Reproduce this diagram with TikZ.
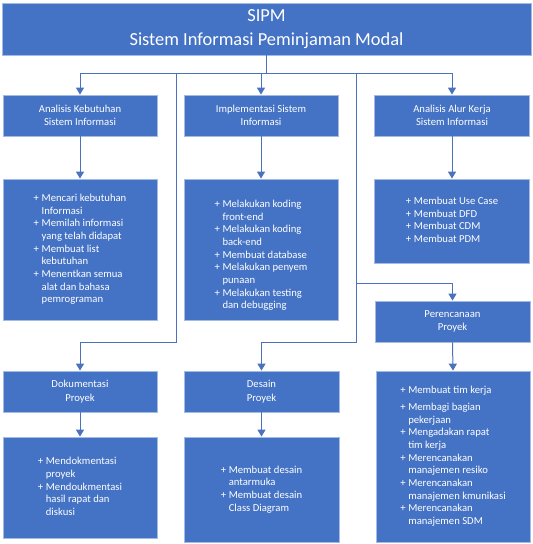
\documentclass[tikz,border=0pt]{standalone}
\usepackage{fontspec}
\setmainfont{Carlito}
\usetikzlibrary{arrows.meta}
\definecolor{boxblue}{HTML}{4472C4}
\definecolor{boxedge}{HTML}{A4BBE3}
\definecolor{linecol}{HTML}{4A72BE}
\tikzset{
  box/.style={draw=boxedge, line width=0.6pt, fill=boxblue, text=white, inner sep=0pt, align=center,
    font=\fontsize{8}{10.2}\selectfont},
  listtext/.style={text=white, inner sep=0pt, align=left, font=\fontsize{8}{9.5}\selectfont},
  conn/.style={draw=linecol, line width=0.75pt},
  arr/.style={conn, -{Triangle[width=6pt,length=5.2pt]}}
}
\newcommand{\itm}[1]{+ & #1\\}
\newcommand{\cnt}[1]{& #1\\}
\begin{document}
\begin{tikzpicture}[x=0.75pt,y=-0.75pt]
\useasboundingbox (0,0) rectangle (533,544);
% top
\node[box, minimum width={529*0.75pt}, minimum height={52*0.75pt}, font=\fontsize{13.8}{18}\selectfont] (top) at (266.5,29) {SIPM\\Sistem Informasi Peminjaman Modal};
% row 1
\node[box, minimum width={154*0.75pt}, minimum height={41*0.75pt}] (a1) at (80,115.5) {Analisis Kebutuhan\\Sistem Informasi};
\node[box, minimum width={154*0.75pt}, minimum height={41*0.75pt}] (a2) at (261,115.5) {Implementasi Sistem\\Informasi};
\node[box, minimum width={155*0.75pt}, minimum height={41*0.75pt}] (a3) at (452,115.5) {Analisis Alur Kerja\\Sistem Informasi};
% row 2
\node[box, minimum width={154*0.75pt}, minimum height={141*0.75pt}] (b1) at (80,249.5) {};
\node[listtext] (t1) at (b1.center) {\begin{tabular}{@{}l@{\hspace{2pt}}l@{}}
\itm{Mencari kebutuhan}\cnt{Informasi}\itm{Memilah informasi}\cnt{yang telah didapat}\itm{Membuat list}\cnt{kebutuhan}\itm{Menentkan semua}\cnt{alat dan bahasa}\cnt{pemrograman}\end{tabular}};
\node[box, minimum width={154*0.75pt}, minimum height={141*0.75pt}] (b2) at (261,249.5) {};
\node[listtext] (t2) at ([yshift=-4.5pt]b2.center) {\begin{tabular}{@{}l@{\hspace{2pt}}l@{}}
\itm{Melakukan koding}\cnt{front-end}\itm{Melakukan koding}\cnt{back-end}\itm{Membuat database}\itm{Melakukan penyem}\cnt{punaan}\itm{Melakukan testing}\cnt{dan debugging}\end{tabular}};
\node[box, minimum width={155*0.75pt}, minimum height={84*0.75pt}] (b3) at (452,221) {};
\node[listtext] (t3) at (b3.center) {\begin{tabular}{@{}l@{\hspace{2pt}}l@{}}
\itm{Membuat Use Case}\itm{Membuat DFD}\itm{Membuat CDM}\itm{Membuat PDM}\end{tabular}};
% row 3
\node[box, minimum width={155*0.75pt}, minimum height={41*0.75pt}] (per) at (452.5,321.5) {Perencanaan\\Proyek};
\node[box, minimum width={154*0.75pt}, minimum height={41*0.75pt}] (dok) at (80,391.5) {Dokumentasi\\Proyek};
\node[box, minimum width={155*0.75pt}, minimum height={41*0.75pt}] (des) at (261.5,391.5) {Desain\\Proyek};
% row 4
\node[box, minimum width={154*0.75pt}, minimum height={101*0.75pt}] (c1) at (80,487.5) {};
\node[listtext] (u1) at (c1.center) {\begin{tabular}{@{}l@{\hspace{2pt}}l@{}}
\itm{Mendokmentasi}\cnt{proyek}\itm{Mendoukmentasi}\cnt{hasil rapat dan}\cnt{diskusi}\end{tabular}};
\node[box, minimum width={155*0.75pt}, minimum height={105*0.75pt}] (c2) at (261.5,489.5) {};
\node[listtext] (u2) at (c2.center) {\begin{tabular}{@{}l@{\hspace{2pt}}l@{}}
\itm{Membuat desain}\cnt{antarmuka}\itm{Membuat desain}\cnt{Class Diagram}\end{tabular}};
\node[box, minimum width={154*0.75pt}, minimum height={171*0.75pt}] (c3) at (453,456.5) {};
\node[listtext] (u3) at (c3.center) {\begin{tabular}{@{}l@{\hspace{2pt}}l@{}}
+ & Membuat tim kerja\\[3pt]
\itm{Membagi bagian}\cnt{pekerjaan}\itm{Mengadakan rapat}\cnt{tim kerja}\itm{Merencanakan}\cnt{manajemen resiko}\itm{Merencanakan}\cnt{manajemen kmunikasi}\itm{Merencanakan}\cnt{manajemen SDM}\end{tabular}};
% junctions
\coordinate (j0) at (266.5,73);
\coordinate (jL) at (176,73);
\coordinate (kL) at (176,342);
\coordinate (jR) at (356,73);
\coordinate (mR) at (356,283);
\coordinate (kR) at (356,342);
% connectors
\draw[conn] (top.south) -- (j0);
\draw[conn] (a1.north |- j0) -- (a3.north |- j0);
\draw[arr] (a1.north |- j0) -- (a1.north);
\draw[arr] (a2.north |- j0) -- (a2.north);
\draw[arr] (a3.north |- j0) -- (a3.north);
\draw[arr] (a1.south) -- (b1.north);
\draw[arr] (a2.south) -- (b2.north);
\draw[arr] (a3.south) -- (b3.north);
\draw[arr] (jL) -- (kL) -| (dok.north);
\draw[arr] (jR) -- (kR) -| (des.north);
\draw[arr] (mR) -| (per.north);
\draw[arr] (per.south) -- (c3.north);
\draw[arr] (dok.south) -- (c1.north);
\draw[arr] (des.south) -- (c2.north);
\end{tikzpicture}
\end{document}
